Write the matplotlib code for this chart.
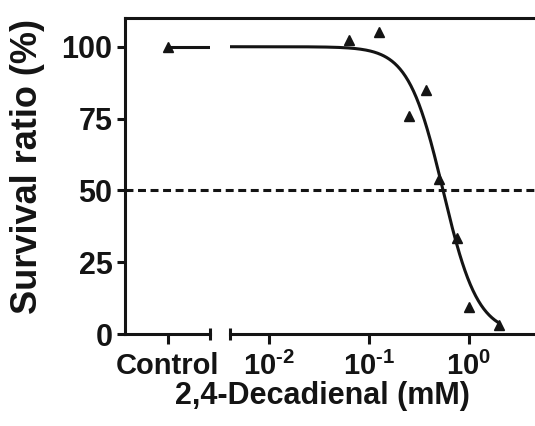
import matplotlib
matplotlib.use("Agg")
import matplotlib.pyplot as plt
import numpy as np
from matplotlib.ticker import NullLocator

plt.rcParams['font.family'] = ['Liberation Sans', 'DejaVu Sans']
plt.rcParams['font.weight'] = 'bold'
plt.rcParams['mathtext.fontset'] = 'custom'
plt.rcParams['mathtext.rm'] = 'Liberation Sans:bold'
plt.rcParams['mathtext.bf'] = 'Liberation Sans:bold'

# data
control_label = "Control"
control_value = 100
conc_mM = [0.0625, 0.125, 0.25, 0.375, 0.5, 0.75, 1.0, 2.0]
survival = [102.5, 105, 76, 85, 54, 33.5, 9.5, 3]
y_ticks = [0, 25, 50, 75, 100]
x_ticks = [0.01, 0.1, 1.0]
x_tick_labels = [r"$10^{\text{-}2}$", r"$10^{\text{-}1}$", r"$10^{0}$"]

# dose-response fit (top, bottom, IC50 in mM, hill slope)
fit_top, fit_bottom, fit_ic50, fit_hill = 100, 0, 0.55, 2.5

ink = '#141414'
lw = 2.2

W, H = 535, 426
fig = plt.figure(figsize=(W / 100, H / 100), dpi=100)
ax1 = fig.add_axes([125 / W, 92 / H, 85 / W, 316 / H])
ax2 = fig.add_axes([230 / W, 92 / H, 305 / W, 316 / H], sharey=ax1)
ax1.patch.set_visible(False)
ax2.patch.set_visible(False)

# control part
ax1.set_xlim(0, 1)
ax1.set_ylim(0, 110)
ax1.plot([0.5, 1.0], [control_value, control_value], color=ink, lw=lw)
ax1.plot([0.5], [control_value], marker='^', ms=7.5, color=ink, ls='none')
ax1.set_xticks([0.5])
ax1.set_xticklabels([control_label])
ax1.set_yticks(y_ticks)
for s in ['top', 'right']:
    ax1.spines[s].set_visible(False)

# log part
lo, hi = 10 ** -2.39, 10 ** 0.66
ax2.set_xscale('log')
ax2.set_xlim(lo, hi)
xs = np.logspace(np.log10(lo), np.log10(conc_mM[-1]), 300)
ys = fit_bottom + (fit_top - fit_bottom) / (1 + (xs / fit_ic50) ** fit_hill)
ax2.plot(xs, ys, color=ink, lw=lw)
ax2.plot(conc_mM, survival, marker='^', ms=7.5, color=ink, ls='none', clip_on=False)
ax2.set_xticks(x_ticks)
ax2.set_xticklabels(x_tick_labels)
ax2.xaxis.set_minor_locator(NullLocator())
ax2.tick_params(axis='y', left=False, labelleft=False)
for s in ['top', 'right', 'left']:
    ax2.spines[s].set_visible(False)

for ax in (ax1, ax2):
    ax.spines['bottom'].set_linewidth(lw)
    ax.spines['left'].set_linewidth(lw)
    ax.spines['bottom'].set_color(ink)
    ax.spines['left'].set_color(ink)
    ax.tick_params(axis='x', length=7, width=lw, color=ink, pad=6, labelsize=21, labelcolor=ink)
ax1.tick_params(axis='y', length=6, width=lw, color=ink, pad=3, labelsize=22, labelcolor=ink)

# frame line on top and 50% reference line, running over the break
span = (W - 125) / 85
ax1.plot([0, span], [1, 1], transform=ax1.transAxes, color=ink, lw=lw, clip_on=False)
ax1.plot([0, span], [50, 50], transform=ax1.get_yaxis_transform(), color=ink,
         lw=lw, ls=(0, (2.6, 1.5)), clip_on=False)

# end caps at the axis break
ax1.plot([1], [0], transform=ax1.transAxes, marker='|', ms=8, mew=lw, color=ink, clip_on=False)
ax2.plot([0], [0], transform=ax2.transAxes, marker='|', ms=8, mew=lw, color=ink, clip_on=False)

fig.text(28 / W, 1 - 166 / H, "Survival ratio (%)", rotation=90, ha='center', va='center',
         fontsize=26, fontweight='bold', color=ink)
fig.text(322 / W, 1 - 396 / H, "2,4-Decadienal (mM)", ha='center', va='center',
         fontsize=22, fontweight='bold', color=ink)

fig.savefig("out.png", dpi=100)
